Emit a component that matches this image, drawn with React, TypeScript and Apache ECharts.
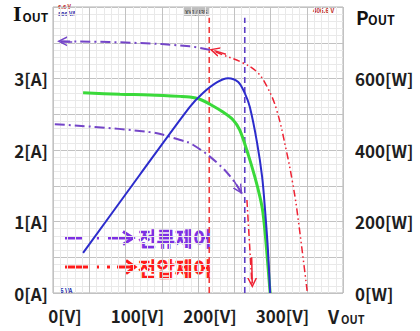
import React, { useEffect, useRef } from 'react';
import * as echarts from 'echarts';

// X tick labels (V)
const voltageTicks = [0, 100, 200, 300];

// I-V curve (green) : voltage [V], current [A]
const ivVoltage = [25, 76, 117, 159, 172, 186, 200, 218, 232, 241, 252, 262, 269, 273, 277, 283];
const ivCurrent = [2.8, 2.78, 2.77, 2.75, 2.74, 2.71, 2.64, 2.53, 2.42, 2.28, 1.96, 1.62, 1.34, 1.13, 0.74, 0];

// P-V curve (blue) : voltage [V], power [W]
const pvVoltage = [25, 103, 172, 190, 210, 225, 239, 248, 255, 265, 272, 276, 280, 283];
const pvPower = [112, 330, 520, 559, 590, 601, 590, 559, 520, 420, 324, 232, 120, 0];

// Voltage-control trajectory (red dash-dot-dot)
const vcVoltage = [334, 320, 314, 306, 292, 279, 265, 245, 218, 201];
const vcCurrent = [0.03, 1.16, 1.54, 1.96, 2.56, 2.88, 3.09, 3.22, 3.33, 3.4];

// Current-control trajectory, upper (purple dash-dot)
const cc1Voltage = [200, 172, 94, -9];
const cc1Current = [3.4, 3.45, 3.5, 3.52];

// Current-control trajectory, lower (purple dash-dot)
const cc2Voltage = [-14, 117, 159, 177, 210, 232, 244];
const cc2Current = [2.36, 2.25, 2.14, 2.07, 1.82, 1.58, 1.39];

// Red dash-dot drop (voltage control) to 0 A
const dropVoltage = [251, 258];
const dropCurrent = [1.3, 0.1];

// Vertical markers
const redMarkerV = 199;
const purpleMarkerV = 248;
const markerTopA = 3.85;

// Arrowhead segments [from, to]
const arrowRed = [[222, 3.34], [206, 3.39]];
const arrowPurpleTop = [[10, 3.52], [-4, 3.52]];
const arrowPurpleLow = [[233, 1.57], [241, 1.44]];
const arrowRedDown = [[257.5, 0.5], [258.3, 0.14]];

const FONT = '"Noto Sans CJK KR", "Noto Sans", sans-serif';
const PURPLE = '#7445c8';
const PURPLE_TXT = '#7d2fe3';
const RED = '#ee2233';
const LEG_RED = '#ff1a1a';
const CHEVRON = 'path://M0,10 L5,0 L10,10 L8.4,10 L5,3.2 L1.6,10 Z';

const zip = (a: number[], b: number[]) => a.map((v, i) => [v, b[i]]);

const labelStyle = {
  color: '#1e1e1e',
  fontSize: 17,
  fontWeight: 'bold' as const,
  fontFamily: FONT,
};

function txt(x: number, y: number, text: string, size: number, fill: string, family = FONT, extra: any = {}) {
  return {
    type: 'text',
    x,
    y,
    style: { text, fill, fontSize: size, fontWeight: 'bold', fontFamily: family, align: 'left', verticalAlign: 'middle', ...extra },
  };
}

function buildOption() {
  const gridLine = () => ({
    type: 'value',
    min: 0,
    max: 8,
    interval: 1,
    axisLine: { show: false },
    axisTick: { show: false },
    axisLabel: { show: false },
    splitLine: { show: true, lineStyle: { color: '#c2c2c2', width: 1 } },
    minorTick: { show: false, splitNumber: 5 },
    minorSplitLine: { show: true, lineStyle: { color: '#e9e9e9', width: 1 } },
  });

  const arrow = (seg: number[][], color: string, size: number) => ({
    type: 'lines',
    coordinateSystem: 'cartesian2d',
    xAxisIndex: 0,
    yAxisIndex: 0,
    symbol: ['none', CHEVRON],
    symbolSize: [size, size],
    lineStyle: { color, width: 1.5, opacity: 1 },
    data: [{ coords: seg }],
    z: 6,
    silent: true,
  });

  const curve = (name: string, data: number[][], yIdx: number, lineStyle: any, smooth: number | false, z = 4) => ({
    type: 'line',
    name,
    xAxisIndex: 0,
    yAxisIndex: yIdx,
    data,
    smooth,
    showSymbol: false,
    symbol: 'none',
    lineStyle,
    z,
  });

  return {
    animation: false,
    backgroundColor: '#ffffff',
    grid: {
      left: 53,
      top: 7,
      width: 290,
      height: 286,
      show: true,
      borderColor: '#b0b0b0',
      borderWidth: 1,
      backgroundColor: '#ffffff',
    },
    xAxis: [
      {
        type: 'value',
        min: -16.5,
        max: 383.5,
        axisLine: { show: false },
        axisTick: { show: false },
        splitLine: { show: false },
        axisLabel: {
          customValues: voltageTicks,
          formatter: '{value}[V]',
          margin: 14,
          ...labelStyle,
        },
      },
      { ...gridLine(), position: 'top' },
    ],
    yAxis: [
      {
        type: 'value',
        min: 0,
        max: 4,
        interval: 1,
        position: 'left',
        axisLine: { show: false },
        axisTick: { show: false },
        splitLine: { show: false },
        axisLabel: {
          formatter: (v: number) => (v === 4 ? '' : v + '[A]'),
          margin: 5,
          ...labelStyle,
        },
      },
      {
        type: 'value',
        min: 0,
        max: 800,
        interval: 200,
        position: 'right',
        axisLine: { show: false },
        axisTick: { show: false },
        splitLine: { show: false },
        axisLabel: {
          formatter: (v: number) => (v === 800 ? '' : v + '[W]'),
          margin: 12,
          ...labelStyle,
        },
      },
      { ...gridLine(), position: 'left' },
    ],
    series: [
      curve('marker-red', [[redMarkerV, 0], [redMarkerV, markerTopA]], 0, { color: '#f03a3a', width: 1.6, type: [6, 4] }, false, 3),
      curve('marker-purple', [[purpleMarkerV, 0], [purpleMarkerV, markerTopA]], 0, { color: '#5a3cc4', width: 1.6, type: [6, 4] }, false, 3),
      curve('I-V', zip(ivVoltage, ivCurrent), 0, { color: '#3ad93a', width: 3 }, 0.3),
      curve('P-V', zip(pvVoltage, pvPower), 1, { color: '#2c2ccc', width: 2 }, 0.3, 5),
      curve('voltage-control', zip(vcVoltage, vcCurrent), 0, { color: RED, width: 1.5, type: [7, 3, 1.5, 3, 1.5, 3] }, 0.4),
      curve('current-control-1', zip(cc1Voltage, cc1Current), 0, { color: PURPLE, width: 2, type: [10, 4, 2, 4] }, 0.4),
      curve('current-control-2', zip(cc2Voltage, cc2Current), 0, { color: PURPLE, width: 2, type: [10, 4, 2, 4] }, 0.4),
      curve('drop', zip(dropVoltage, dropCurrent), 0, { color: RED, width: 1.5, type: [7, 3, 1.5, 3] }, false),
      arrow(arrowRed, RED, 10),
      arrow(arrowPurpleTop, PURPLE, 10),
      arrow(arrowPurpleLow, PURPLE, 10),
      arrow(arrowRedDown, RED, 10),
    ],
    graphic: [
      // axis titles
      txt(13, 13, 'I', 22, '#111', '"Liberation Serif", serif'),
      txt(22.5, 16.5, 'OUT', 12, '#111'),
      txt(356, 16, 'P', 19, '#111'),
      txt(368, 19.5, 'OUT', 12.5, '#111'),
      txt(328, 316, 'V', 18, '#1e1e1e'),
      txt(341, 319, 'OUT', 11, '#1e1e1e'),
      // scope annotations
      { type: 'text', x: 58, y: 4, style: { text: '6.6 V', fill: '#c02828', fontSize: 5.5, fontWeight: 'bold', fontFamily: FONT } },
      { type: 'text', x: 58, y: 11, style: { text: '896 VA', fill: '#2a2aa8', fontSize: 5.5, fontWeight: 'bold', fontFamily: FONT } },
      { type: 'text', x: 313, y: 7, style: { text: '406.6 V', fill: '#c02828', fontSize: 6, fontWeight: 'bold', fontFamily: FONT } },
      { type: 'text', x: 60, y: 287, style: { text: '6 VA', fill: '#2a2aa8', fontSize: 6, fontWeight: 'bold', fontFamily: FONT } },
      {
        type: 'text',
        x: 183,
        y: 8,
        style: { text: 'XY1/335', fill: '#333', fontSize: 6, fontFamily: FONT, backgroundColor: '#bdbdbd', padding: [1, 2] },
      },
      // legend: current control
      { type: 'line', shape: { x1: 65, y1: 238, x2: 82, y2: 238 }, style: { stroke: PURPLE_TXT, lineWidth: 3 } },
      { type: 'line', shape: { x1: 96, y1: 238, x2: 99, y2: 238 }, style: { stroke: PURPLE_TXT, lineWidth: 3 } },
      { type: 'line', shape: { x1: 108, y1: 238, x2: 130, y2: 238 }, style: { stroke: PURPLE_TXT, lineWidth: 3 } },
      { type: 'polyline', shape: { points: [[123, 231.5], [133, 238], [123, 244.5]] }, style: { stroke: PURPLE_TXT, lineWidth: 3, fill: null } },
      txt(138, 238, '전류제어', 20, PURPLE_TXT, FONT, { stroke: PURPLE_TXT, lineWidth: 0.3 }),
      // legend: voltage control
      { type: 'line', shape: { x1: 65, y1: 267, x2: 88, y2: 267 }, style: { stroke: LEG_RED, lineWidth: 3 } },
      { type: 'line', shape: { x1: 96, y1: 267, x2: 99, y2: 267 }, style: { stroke: LEG_RED, lineWidth: 3 } },
      { type: 'line', shape: { x1: 107, y1: 267, x2: 110, y2: 267 }, style: { stroke: LEG_RED, lineWidth: 3 } },
      { type: 'line', shape: { x1: 117, y1: 267, x2: 133, y2: 267 }, style: { stroke: LEG_RED, lineWidth: 3 } },
      { type: 'polyline', shape: { points: [[126, 260.5], [135, 267], [126, 273.5]] }, style: { stroke: LEG_RED, lineWidth: 3, fill: null } },
      txt(138, 268, '전압제어', 20, LEG_RED, FONT, { stroke: LEG_RED, lineWidth: 0.3 }),
    ],
  };
}

export default function App() {
  const ref = useRef<HTMLDivElement>(null);
  useEffect(() => {
    if (!ref.current) return;
    const chart = echarts.init(ref.current, null, { renderer: 'svg' });
    chart.setOption(buildOption() as any);
    return () => chart.dispose();
  }, []);
  return <div ref={ref} style={{ position: 'fixed', left: 0, top: 0, width: 420, height: 331, background: '#fff' }} />;
}
